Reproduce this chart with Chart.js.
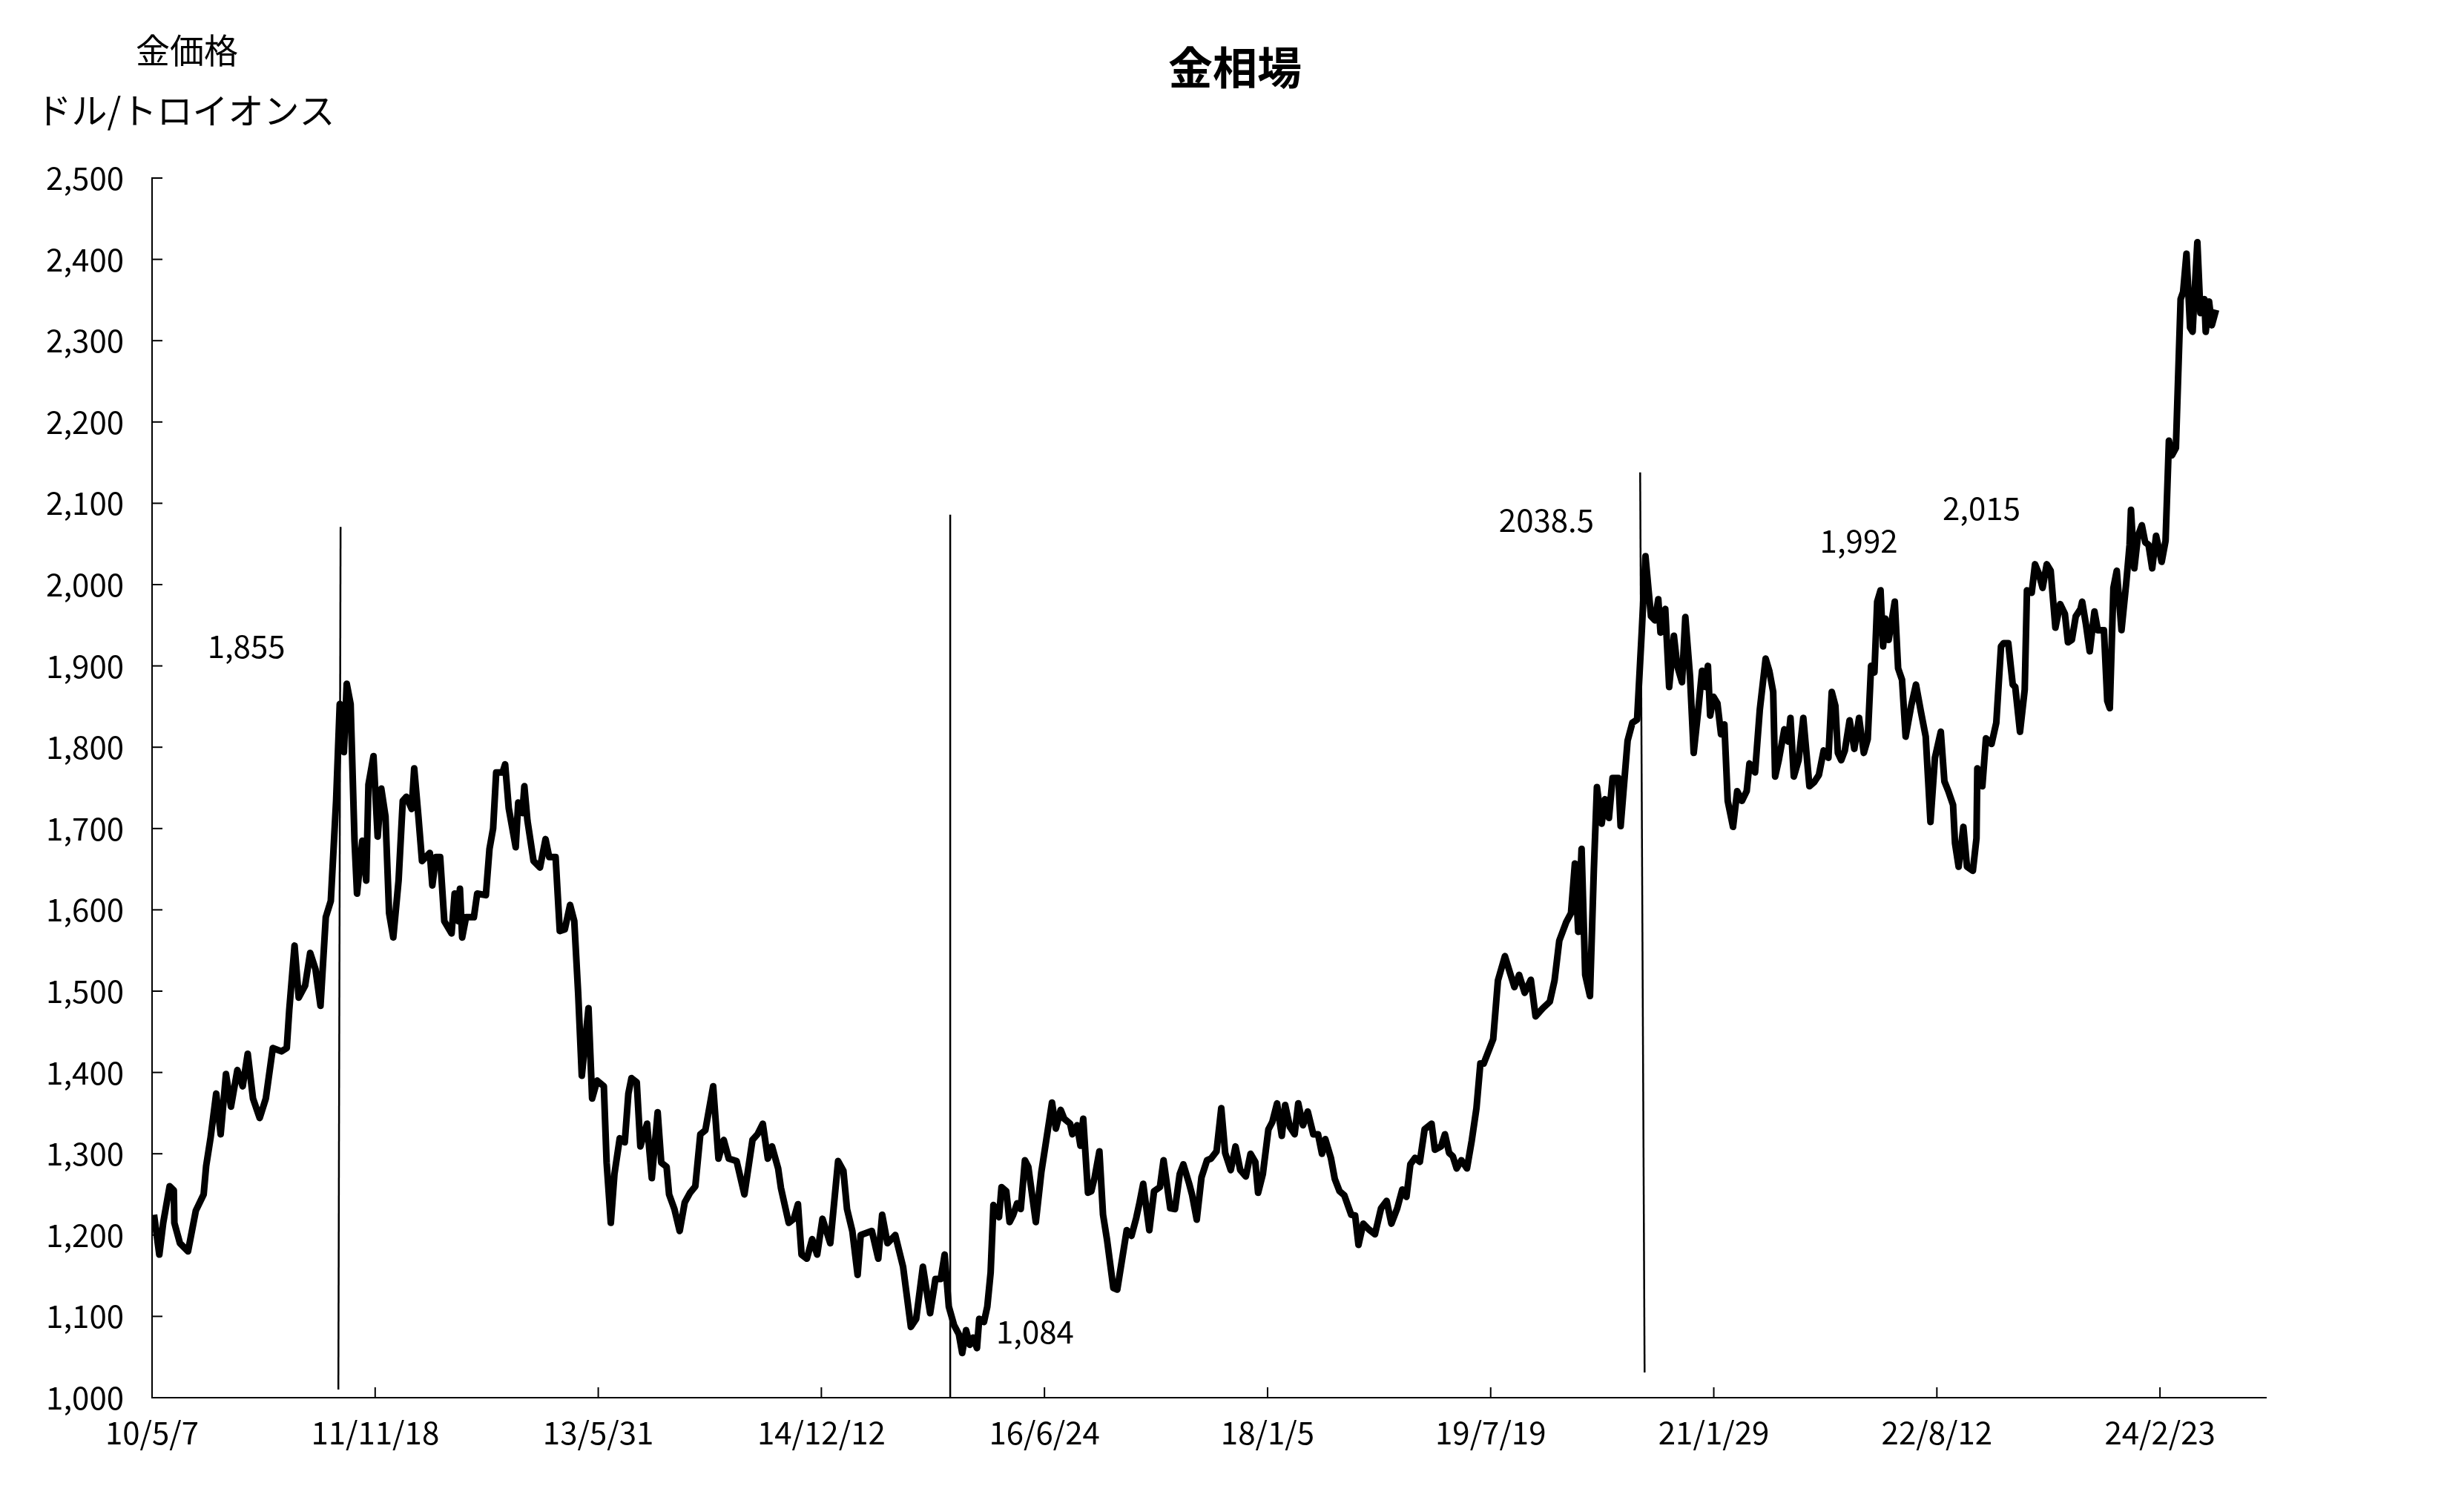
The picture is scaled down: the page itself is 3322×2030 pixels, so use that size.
<!DOCTYPE html>
<html><head><meta charset="utf-8">
<script src="https://cdn.jsdelivr.net/npm/chart.js@4/dist/chart.umd.min.js"></script>
<style>html,body{margin:0;padding:0;background:#fff}#w{width:3322px;height:2030px}</style>
</head><body><div id="w"><canvas id="c"></canvas></div>
<script>
const xTickLabels = ["10/5/7","11/11/18","13/5/31","14/12/12","16/6/24","18/1/5","19/7/19","21/1/29","22/8/12","24/2/23"];
const weekIdx = [0.7,2.6,4,6.3,7.8,8,10,12.9,15.7,18.5,19.4,21,23,24.6,26.5,28.3,30.6,32.5,34.3,36.2,38.6,40.8,43.3,46.4,48.3,49.2,51.1,52.6,54.9,56.7,58.6,60.4,62.3,64.1,66,67.3,68.8,69.8,71.2,72.6,73.5,75.4,76.8,77.6,79.4,80.9,82.2,83.7,85,86.5,88.4,89.9,91.2,93.1,94,95.5,96.8,99.6,100.5,101.8,103.3,104.8,107.4,108.5,109.8,110.4,111.2,112.6,115.4,116.6,119.7,121,122.3,123.4,125.7,126.6,127.9,130.4,131.3,132.8,133.5,134.6,136.8,139.1,141.1,142.4,144.7,146.2,148,149.9,151.4,152.8,154.1,156.5,157.8,159.6,162,163,164.5,165.8,167.7,169.5,170.8,171.9,173.8,175.1,177.5,179.2,181.3,182.6,184.5,185.4,187.3,189.2,191,192.9,194.8,196.6,198.4,201.2,203.1,205,206.8,209.6,212.4,215.3,217.1,219,220.8,222.3,224.5,225.5,228.3,230.1,231.6,232.9,234.8,236.7,238.5,240.4,243.2,246,247.9,249.2,251.1,253,254.1,258.1,260.4,261.8,263.7,266.5,269.3,272.1,274,276.4,279,280.9,282.8,284.2,285.7,287.6,289.3,290.5,291.9,293.2,294.4,295.8,296.6,298.3,299.5,300.7,301.7,303.7,304.6,306.3,307.5,308.8,310.2,311.5,313,314.2,316.9,318.9,320.7,322.7,324.1,325.8,327.1,329.2,330,331.7,332.9,333.9,335.6,336.8,338,339.7,341,342.4,344.7,346.1,349.5,351.2,352.9,354.1,355.4,357.6,359.3,361.4,362.7,365.1,366.8,368.5,369.8,371.9,372.9,374.6,376.3,378.3,379.7,381.7,383.4,384.8,386.8,388.5,390.2,392.2,393.9,395.6,396.6,398.3,400.3,401.7,403.4,405.1,406.3,408,409.7,411,412.7,414.4,416.4,418.1,419.5,420.7,422.7,424.1,425.8,427.5,430,431.4,432.6,434.3,436.3,438.5,440.7,442.7,444.4,446.5,448.3,449.8,451.2,452.9,454.6,456.3,458.8,460,462.2,463.6,465.1,466.4,467.8,469.5,471.5,473.2,474.9,476.3,477.5,479.2,480.9,482.6,485.1,488.5,490.2,492.2,494.4,496.1,498.7,501.2,502.9,504.6,507.1,508.8,510.2,511.4,512.6,513.9,515.6,517,518.1,519.8,521,522.4,523.7,525.8,526.6,529.1,530.8,532.5,534.2,535.5,536.7,537.5,538.9,540.1,540.9,542.6,544,545.7,546.9,548.6,549.8,551.5,552.8,554.5,555.8,557,557.9,558.7,559.9,561.3,562.6,563.8,565,566.9,568.4,570.1,571.8,572.8,574.8,576.5,578.6,579.9,581.3,582,583.3,585.3,586.7,587.5,588.7,590.4,592.1,594.3,596,597.7,599.4,601.1,602.3,603.6,604.5,605.7,607,608.7,610.4,612.1,613.8,615.2,616.4,617.6,618.6,619.8,620.7,621.5,622.7,624.9,626.1,627.5,628.8,630.8,632.5,634.2,636,637.7,639.3,641.4,642.7,644.1,645.8,646.5,647.8,649.5,650.8,652.9,654.2,654.5,656.3,657.6,659.6,661.3,663,663.9,665.6,667.2,668.1,669.8,671.5,672.3,674,675.2,676.5,677.9,679.4,680.8,682.5,684.2,685.9,687,688.4,689.8,691.5,692.1,693.5,694.8,696.5,697.7,699.9,701.1,702,703.3,704.5,706.2,707.9,709.1,709.6,710.8,712.1,713.5,714.7,715.9,717.2,718.6,720.6,722,723.2,724.3,725.7,727.4,728.3,729.5,730.8,731.7,732.2,733.4,734.5,735.9,736.4,737.6,738.6,740.1];
const goldPrice = [1225,1176,1215,1260,1255,1215,1190,1180,1230,1250,1285,1320,1374,1324,1398,1358,1403,1383,1423,1368,1344,1368,1430,1426,1430,1477,1556,1492,1507,1547,1527,1482,1591,1611,1734,1853,1794,1878,1853,1685,1620,1685,1636,1754,1789,1690,1749,1715,1596,1566,1636,1734,1739,1724,1774,1715,1660,1670,1630,1665,1665,1586,1571,1620,1586,1626,1566,1591,1591,1620,1618,1675,1700,1769,1769,1779,1725,1677,1732,1719,1752,1710,1660,1652,1687,1665,1665,1574,1576,1606,1586,1497,1396,1479,1368,1390,1383,1289,1215,1275,1319,1314,1374,1393,1388,1309,1337,1270,1351,1289,1284,1250,1232,1205,1240,1252,1260,1324,1329,1383,1294,1317,1294,1291,1250,1317,1324,1337,1294,1309,1282,1258,1215,1220,1238,1176,1171,1195,1176,1220,1190,1291,1279,1232,1205,1151,1200,1205,1171,1225,1190,1200,1161,1087,1097,1161,1104,1146,1146,1176,1112,1089,1078,1055,1083,1065,1074,1061,1097,1093,1112,1154,1237,1222,1259,1254,1216,1225,1239,1232,1292,1284,1216,1278,1318,1363,1331,1354,1343,1337,1324,1335,1310,1343,1252,1254,1271,1303,1225,1195,1135,1133,1206,1199,1221,1240,1263,1206,1254,1259,1292,1233,1232,1275,1287,1263,1250,1219,1271,1292,1294,1303,1356,1301,1280,1309,1280,1272,1300,1290,1252,1275,1330,1339,1362,1322,1360,1333,1324,1362,1335,1352,1324,1324,1300,1318,1295,1269,1254,1249,1225,1224,1188,1214,1207,1201,1233,1242,1214,1233,1256,1247,1287,1295,1290,1330,1337,1305,1309,1324,1301,1297,1282,1292,1282,1316,1356,1411,1411,1426,1441,1513,1543,1505,1520,1498,1514,1469,1479,1487,1513,1562,1585,1596,1657,1573,1675,1520,1494,1650,1751,1706,1736,1713,1762,1762,1703,1808,1830,1834,1944,2035,1990,1961,1956,1982,1941,1970,1874,1937,1900,1880,1960,1886,1793,1848,1894,1874,1900,1839,1862,1854,1816,1828,1734,1702,1746,1734,1746,1780,1769,1846,1909,1894,1868,1764,1784,1822,1807,1836,1764,1784,1836,1752,1757,1766,1796,1787,1868,1851,1793,1784,1796,1833,1798,1836,1793,1810,1900,1892,1979,1993,1924,1958,1932,1979,1897,1883,1813,1851,1877,1845,1813,1708,1787,1819,1758,1746,1729,1682,1653,1702,1653,1648,1688,1774,1752,1811,1804,1830,1924,1928,1928,1877,1874,1819,1871,1993,1990,2025,2014,1996,2025,2017,1947,1976,1964,1929,1932,1961,1970,1979,1950,1918,1967,1944,1944,1857,1848,1996,2017,1944,2002,2049,2092,2020,2060,2073,2052,2049,2020,2060,2028,2054,2177,2159,2168,2351,2360,2407,2316,2311,2346,2421,2334,2351,2311,2348,2319,2338];
const markerIdx = [[67.6,66.8],[286.2,286.2],[533.6,535.2]];
const markerTop = [2071,2086,2138];
const markerBottom = [1010,1000,1031];
const noteText = ["1,855","1,084","2038.5","1,992","2,015"];
const noteIdx = [33.8,316.6,500,612,656];
const noteVal = [1924,1081,2079,2054,2094];

const FONT = "'Noto Sans CJK JP','Noto Sans',sans-serif";
const main = weekIdx.map((x,i)=>({x, y: goldPrice[i]}));
const markers = markerIdx.map((m,i)=>({
  data:[{x:m[0],y:markerTop[i]},{x:m[1],y:markerBottom[i]}],
  borderColor:'#000', borderWidth:2.5, pointRadius:0, tension:0
}));

const deco = {
  id:'deco',
  afterDraw(ch){
    const c = ch.ctx, xs = ch.scales.x, ys = ch.scales.y, a = ch.chartArea;
    c.save();
    c.strokeStyle='#000'; c.lineWidth=2;
    for(let v=1000; v<=2500; v+=100){
      const py = ys.getPixelForValue(v);
      c.beginPath(); c.moveTo(a.left,py); c.lineTo(a.left+14,py); c.stroke();
    }
    for(let k=0;k<xTickLabels.length;k++){
      const px = xs.getPixelForValue(k*80);
      c.beginPath(); c.moveTo(px,a.bottom); c.lineTo(px,a.bottom-14); c.stroke();
    }
    c.fillStyle='#000'; c.textAlign='center'; c.textBaseline='middle';
    c.font = "bold 60px " + FONT;
    c.fillText('金相場', 1665, 91);
    c.font = "46px " + FONT;
    c.fillText('金価格', 252, 68);
    c.font = "48px " + FONT;
    c.fillText('ドル/トロイオンス', 250, 149);
    c.font = "42px " + FONT;
    noteText.forEach((t,i)=>c.fillText(t, xs.getPixelForValue(noteIdx[i]), ys.getPixelForValue(noteVal[i])));
    c.restore();
  }
};

new Chart(document.getElementById('c'), {
  type:'line',
  data:{ datasets:[{data:main, borderColor:'#000', borderWidth:9, pointRadius:0, tension:0, borderJoinStyle:'round'}, ...markers] },
  options:{
    responsive:true, maintainAspectRatio:false, animation:false,
    plugins:{legend:{display:false}, tooltip:{enabled:false}},
    layout:{padding:{left:0, top:240, right:267, bottom:0}},
    scales:{
      x:{type:'linear', min:0, max:758,
        afterFit(s){ s.height = 146; },
        afterBuildTicks(s){ s.ticks = xTickLabels.map((l,i)=>({value:i*80})); },
        grid:{display:false, drawTicks:false}, border:{display:true,color:'#000',width:2},
        ticks:{autoSkip:false, maxRotation:0, padding:22, color:'#000', font:{size:42, family:FONT},
          callback:(v)=> xTickLabels[Math.round(v/80)] }
      },
      y:{min:1000, max:2500,
        afterFit(s){ s.width = 205; },
        grid:{display:false, drawTicks:false}, border:{display:true,color:'#000',width:2},
        ticks:{stepSize:100, padding:38, color:'#000', font:{size:42, family:FONT},
          callback:(v)=> v.toLocaleString('en-US') }
      }
    }
  },
  plugins:[deco]
});
</script></body></html>
